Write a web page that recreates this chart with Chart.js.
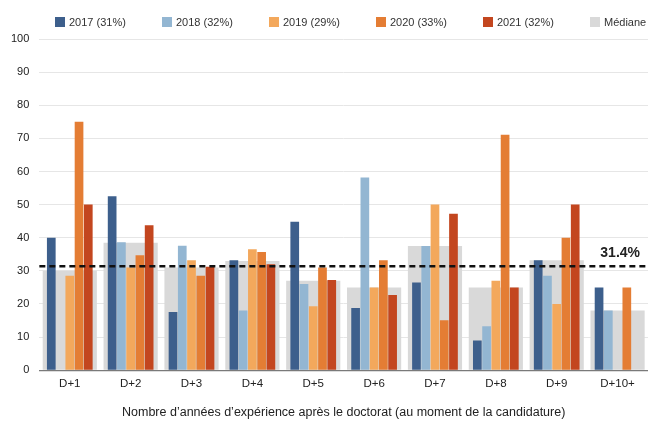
<!DOCTYPE html>
<html>
<head>
<meta charset="utf-8">
<script src="https://cdn.jsdelivr.net/npm/chart.js@4.4.0/dist/chart.umd.min.js"></script>
<style>
	html, body { margin:0; padding:0; background:#fff; }
	#zona { width:648px; height:424px; }
</style>
</head>
<body>
<div id="zona"><canvas id="grafico"></canvas></div>
<script>
//	Datos del grafico: candidaturas por annos de experiencia tras el doctorado
var Categorias=['D+1','D+2','D+3','D+4','D+5','D+6','D+7','D+8','D+9','D+10+'];
var Etiquetas=['2017 (31%)','2018 (32%)','2019 (29%)','2020 (33%)','2021 (32%)'];
var Val2017=[40,52.5,17.6,33.2,44.8,18.8,26.5,9,33.2,25];
var Val2018=[0,38.6,37.6,18,26,58.2,37.5,13.3,28.5,18];
var Val2019=[28.5,31,33.2,36.5,19.3,25,50,27,20,0];
var Val2020=[75,34.7,28.5,35.7,31,33.2,15.1,71.1,40,25];
var Val2021=[50,43.8,31.2,32,27.2,22.7,47.2,25,50,0];
var Mediana=[30,38.5,31,33,27,25,37.5,25,33.2,18];
var Media=31.4;
var TxtMedia='31.4%';
var TituloX='Nombre d\u2019années d\u2019expérience après le doctorat (au moment de la candidature)';

//	Paleta de colores
var Colores=['#3d5f8c','#93b6d2','#f3a85c','#e47d34','#c3461f'];
var ColorMediana='#d9d9d9';

var Fuente='"Liberation Sans", Arial, sans-serif';

//	Linea discontinua con la media global
var pluginMedia={
	id:'lineaMedia',
	afterDatasetsDraw: function(chart)
	{
		var ctx=chart.ctx, area=chart.chartArea;
		var y=chart.scales.y.getPixelForValue(Media);
		ctx.save();
		ctx.strokeStyle='#111';
		ctx.lineWidth=2.5;
		ctx.setLineDash([6,4]);
		ctx.beginPath();
		ctx.moveTo(area.left,y);
		ctx.lineTo(area.right,y);
		ctx.stroke();
		ctx.setLineDash([]);
		ctx.fillStyle='#222';
		ctx.font='bold 14px '+Fuente;
		ctx.textAlign='right';
		ctx.textBaseline='alphabetic';
		ctx.fillText(TxtMedia,640,y-9);
		ctx.restore();
	}
};

//	Leyenda propia en la parte superior
var pluginLeyenda={
	id:'leyendaPropia',
	afterDraw: function(chart)
	{
		var ctx=chart.ctx;
		var x=55, y=22;
		ctx.save();
		ctx.font='11px '+Fuente;
		ctx.textBaseline='middle';
		ctx.textAlign='left';
		chart.data.datasets.forEach(function(ds){
			ctx.fillStyle=ds.backgroundColor;
			ctx.fillRect(x,y-5,10,10);
			ctx.fillStyle='#333';
			ctx.fillText(ds.label,x+14,y+0.5);
			x+=107;
		});
		ctx.restore();
	}
};

function PresentaGrafico()
{
	var Series=[Val2017,Val2018,Val2019,Val2020,Val2021];
	var Datasets=[];
	for (var i=0;i<Series.length;++i)
	{
		Datasets.push({
			label:Etiquetas[i],
			data:Series[i],
			backgroundColor:Colores[i],
			borderWidth:0,
			barPercentage:0.94,
			categoryPercentage:0.76,
			order:0
		});
	}
	//	la mediana va detras, centrada en la categoria
	Datasets.push({
		label:'Médiane',
		data:Mediana,
		backgroundColor:ColorMediana,
		borderWidth:0,
		grouped:false,
		barPercentage:0.89,
		categoryPercentage:1,
		order:1
	});

	var ctx=document.getElementById('grafico').getContext('2d');
	new Chart(ctx,{
		type:'bar',
		data:{ labels:Categorias, datasets:Datasets },
		options:{
			responsive:true,
			maintainAspectRatio:false,
			animation:false,
			layout:{ padding:{ top:39, left:1, right:0, bottom:4 } },
			plugins:{
				legend:{ display:false },
				tooltip:{ enabled:false }
			},
			scales:{
				x:{
					offset:true,
					grid:{ display:false, drawTicks:false },
					border:{ display:true, color:'#7a7a7a', width:1.2 },
					ticks:{ color:'#222', font:{ family:Fuente, size:11.5 }, padding:7 },
					title:{ display:true, text:TituloX, color:'#222', font:{ family:Fuente, size:12.5 }, padding:{ top:7, bottom:0 } }
				},
				y:{
					min:0,
					max:100,
					ticks:{ stepSize:10, color:'#222', font:{ family:Fuente, size:11 }, padding:10 },
					grid:{ color:'#e6e6e6', drawTicks:false },
					border:{ display:false }
				}
			}
		},
		plugins:[pluginMedia,pluginLeyenda]
	});
}

PresentaGrafico();
</script>
</body>
</html>
